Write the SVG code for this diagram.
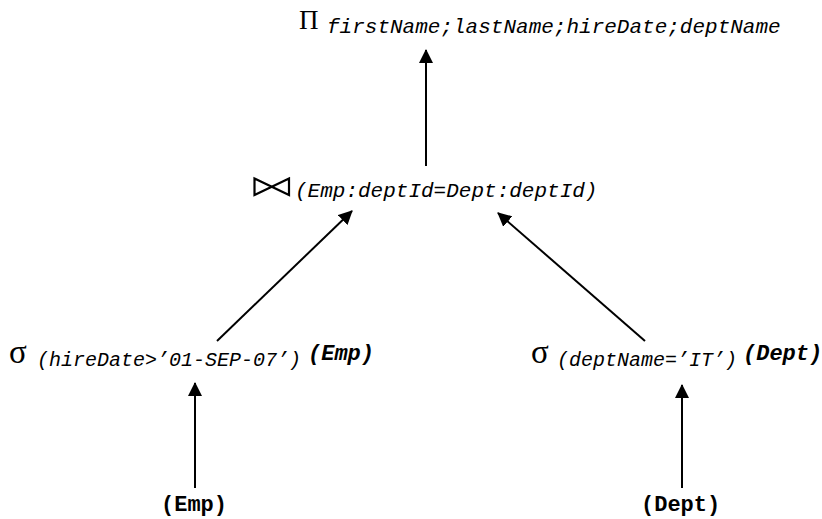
<svg xmlns="http://www.w3.org/2000/svg" width="822" height="519" viewBox="0 0 822 519">
<style>
.op{font-family:"Liberation Serif","Times New Roman",serif;font-size:27px;fill:#000}
.sig{font-family:"Liberation Serif","Times New Roman",serif;font-size:33px;fill:#000}
.sub{font-family:"Liberation Mono","Courier New",monospace;font-style:italic;font-size:21px;fill:#000}
.subs{font-family:"Liberation Mono","Courier New",monospace;font-style:italic;font-size:20px;fill:#000}
.rel{font-family:"Liberation Mono","Courier New",monospace;font-weight:bold;font-size:22px;fill:#000}
.reli{font-family:"Liberation Mono","Courier New",monospace;font-weight:bold;font-style:italic;font-size:22px;fill:#000}
.edge{stroke:#000;stroke-width:2;fill:none;marker-end:url(#ah)}
</style>
<defs>
<marker id="ah" markerWidth="14" markerHeight="14" viewBox="0 0 14 14" refX="13" refY="7" orient="auto" markerUnits="userSpaceOnUse">
<path d="M0,0 L14,7 L0,14 Z" fill="#000"/>
</marker>
</defs>
<rect width="822" height="519" fill="#fff"/>
<g id="connectors">
<line class="edge" x1="426" y1="166" x2="426" y2="50"/>
<line class="edge" x1="217" y1="341" x2="352" y2="211"/>
<line class="edge" x1="645" y1="341" x2="498" y2="213"/>
<line class="edge" x1="195" y1="488" x2="195" y2="383"/>
<line class="edge" x1="682" y1="488" x2="682" y2="385"/>
</g>
<g id="project">
<text class="op" x="299" y="29">Π</text>
<text class="sub" x="327" y="33">firstName;lastName;hireDate;deptName</text>
</g>
<g id="join">
<path d="M254.5,178.5 L254.5,195 L289,178.5 L289,195 Z" fill="none" stroke="#000" stroke-width="2.2" stroke-linejoin="miter"/>
<text class="sub" x="295" y="197">(Emp:deptId=Dept:deptId)</text>
</g>
<g id="selectEmp">
<text class="sig" x="9" y="363">σ</text>
<text class="subs" x="37" y="366">(hireDate&gt;’01-SEP-07’)</text>
<text class="reli" x="308" y="360">(Emp)</text>
</g>
<g id="selectDept">
<text class="sig" x="531" y="363">σ</text>
<text class="subs" x="557" y="366">(deptName=’IT’)</text>
<text class="reli" x="743" y="360">(Dept)</text>
</g>
<g id="emp">
<text class="rel" x="161" y="511">(Emp)</text>
</g>
<g id="dept">
<text class="rel" x="641" y="511">(Dept)</text>
</g>
</svg>
